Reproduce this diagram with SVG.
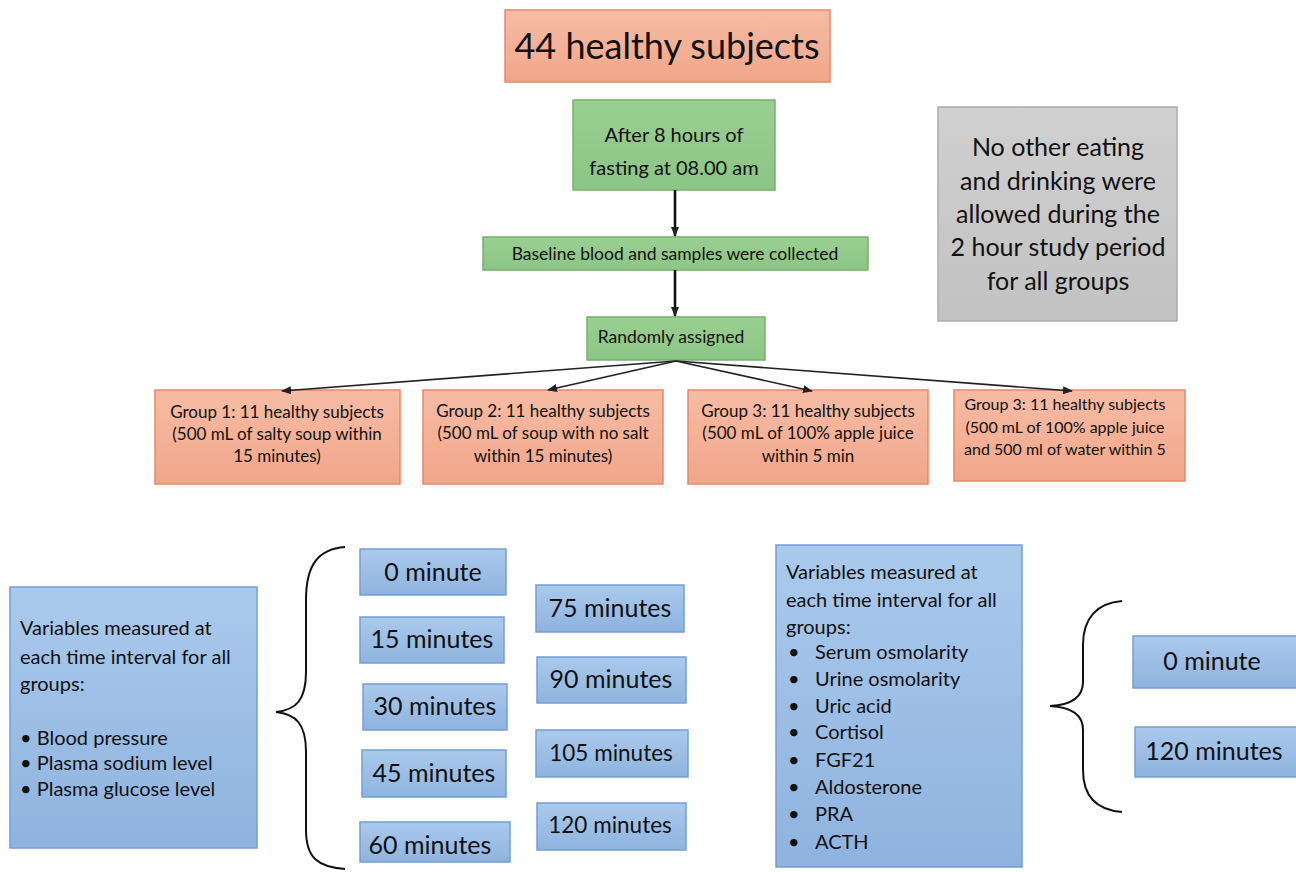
<svg xmlns="http://www.w3.org/2000/svg" width="1296" height="872" viewBox="0 0 1296 872">
<defs>
<linearGradient id="gSalmon" x1="0" y1="0" x2="0" y2="1"><stop offset="0" stop-color="#F6BCA5"/><stop offset="1" stop-color="#F1A689"/></linearGradient>
<linearGradient id="gGreen" x1="0" y1="0" x2="0" y2="1"><stop offset="0" stop-color="#9ACF92"/><stop offset="1" stop-color="#8CC585"/></linearGradient>
<linearGradient id="gGray" x1="0" y1="0" x2="0" y2="1"><stop offset="0" stop-color="#D0D0D0"/><stop offset="1" stop-color="#C2C2C2"/></linearGradient>
<linearGradient id="gBlue" x1="0" y1="0" x2="0" y2="1"><stop offset="0" stop-color="#AACAEC"/><stop offset="1" stop-color="#8FB3DF"/></linearGradient>
<marker id="arr" markerWidth="10" markerHeight="8" refX="9" refY="4" orient="auto" markerUnits="userSpaceOnUse"><path d="M0,0 L10,4 L0,8 Z" fill="#222"/></marker>
</defs>
<style>
text{font-family:Lato,"Open Sans","Liberation Sans",sans-serif;fill:#111;}
.salmon{fill:url(#gSalmon);stroke:#E9876A;stroke-width:1.5;}
.green{fill:url(#gGreen);stroke:#74B268;stroke-width:1.5;}
.gray{fill:url(#gGray);stroke:#ADADAD;stroke-width:1.5;}
.blue{fill:url(#gBlue);stroke:#739FD3;stroke-width:1.5;}
.c{text-anchor:middle;}
.conn{stroke:#222;stroke-width:1.6;fill:none;}
.conn2{stroke:#111;stroke-width:2.6;fill:none;}
.brace{stroke:#111;stroke-width:2;fill:none;}
.g{font-size:17px;}
.t{font-size:25px;}
.v{font-size:20px;}
</style>

<g id="n-subjects"><rect class="salmon" x="505" y="10" width="325" height="72"/><text class="c" x="667" y="59" font-size="36">44 healthy subjects</text></g>
<g id="n-fasting"><rect class="green" x="573" y="100" width="202" height="90"/><text class="c" x="674" y="142" font-size="20">After 8 hours of</text><text class="c" x="674" y="175" font-size="20">fasting at 08.00 am</text></g>
<g id="n-baseline"><rect class="green" x="483" y="237" width="385" height="33"/><text class="c" x="675" y="260" font-size="17.5">Baseline blood and samples were collected</text></g>
<g id="n-random"><rect class="green" x="587" y="317" width="178" height="43"/><text class="c" x="671" y="343" font-size="17.5">Randomly assigned</text></g>
<g id="n-note"><rect class="gray" x="938" y="107" width="239" height="214"/>
<text class="c" x="1058" y="156" font-size="25">No other eating</text>
<text class="c" x="1058" y="190" font-size="25">and drinking were</text>
<text class="c" x="1058" y="223" font-size="25">allowed during the</text>
<text class="c" x="1058" y="256" font-size="25">2 hour study period</text>
<text class="c" x="1058" y="290" font-size="25">for all groups</text></g>

<g id="n-g1"><rect class="salmon" x="155" y="390" width="245" height="94"/><text class="c g" x="277" y="418">Group 1: 11 healthy subjects</text><text class="c g" x="277" y="440">(500 mL of salty soup within</text><text class="c g" x="277" y="462">15 minutes)</text></g>
<g id="n-g2"><rect class="salmon" x="423" y="390" width="240" height="94"/><text class="c g" x="543" y="417">Group 2: 11 healthy subjects</text><text class="c g" x="543" y="439">(500 mL of  soup with no salt</text><text class="c g" x="543" y="462">within 15 minutes)</text></g>
<g id="n-g3"><rect class="salmon" x="688" y="390" width="240" height="94"/><text class="c g" x="808" y="417">Group 3: 11 healthy subjects</text><text class="c g" x="808" y="439">(500 mL of 100% apple juice</text><text class="c g" x="808" y="462">within 5 min</text></g>
<g id="n-g4"><rect class="salmon" x="954" y="390" width="231" height="91"/><text class="c" x="1065" y="410" font-size="16">Group 3: 11 healthy subjects</text><text class="c" x="1065" y="433" font-size="16">(500 mL of 100% apple juice</text><text class="c" x="1065" y="455" font-size="16">and 500 ml of water within 5</text></g>

<g id="connectors">
<line class="conn2" x1="675" y1="190" x2="675" y2="236" marker-end="url(#arr)"/>
<line class="conn2" x1="675" y1="270" x2="675" y2="316" marker-end="url(#arr)"/>
<line class="conn" x1="676" y1="361" x2="282" y2="391" marker-end="url(#arr)"/>
<line class="conn" x1="676" y1="361" x2="548" y2="390" marker-end="url(#arr)"/>
<line class="conn" x1="676" y1="361" x2="812" y2="391" marker-end="url(#arr)"/>
<line class="conn" x1="676" y1="361" x2="1072" y2="391" marker-end="url(#arr)"/>
</g>

<g id="n-vars1"><rect class="blue" x="10" y="587" width="247" height="261"/>
<text class="v" x="20" y="635">Variables measured at</text>
<text class="v" x="20" y="664">each time interval for all</text>
<text class="v" x="20" y="691">groups:</text>
<text class="v" x="20" y="745">•  Blood pressure</text>
<text class="v" x="20" y="770">•  Plasma sodium level</text>
<text class="v" x="20" y="796">•  Plasma glucose level</text></g>

<g id="n-brace1"><path class="brace" d="M345,547 C318,549 306,565 306,600 L306,672 C306,700 296,710 276,712 C296,714 306,724 306,752 L306,830 C306,858 318,867 345,869"/></g>

<g id="n-t0"><rect class="blue" x="360" y="549" width="146" height="46"/><text class="c t" x="433" y="581">0 minute</text></g>
<g id="n-t15"><rect class="blue" x="360" y="617" width="144" height="46"/><text class="c t" x="432" y="648">15 minutes</text></g>
<g id="n-t30"><rect class="blue" x="363" y="684" width="144" height="46"/><text class="c t" x="435" y="715">30 minutes</text></g>
<g id="n-t45"><rect class="blue" x="362" y="750" width="144" height="47"/><text class="c t" x="434" y="782">45 minutes</text></g>
<g id="n-t60"><rect class="blue" x="360" y="822" width="150" height="40"/><text class="c t" x="430" y="854">60 minutes</text></g>
<g id="n-t75"><rect class="blue" x="536" y="585" width="148" height="47"/><text class="c t" x="610" y="617">75 minutes</text></g>
<g id="n-t90"><rect class="blue" x="537" y="657" width="149" height="46"/><text class="c t" x="611" y="688">90 minutes</text></g>
<g id="n-t105"><rect class="blue" x="536" y="730" width="152" height="47"/><text class="c" x="611" y="761" font-size="22.5">105 minutes</text></g>
<g id="n-t120"><rect class="blue" x="537" y="803" width="149" height="47"/><text class="c" x="610" y="833" font-size="22.5">120 minutes</text></g>

<g id="n-vars2"><rect class="blue" x="776" y="545" width="246" height="322"/>
<text class="v" x="786" y="579">Variables measured at</text>
<text class="v" x="786" y="607">each time interval for all</text>
<text class="v" x="786" y="634">groups:</text>
<g class="v">
<text x="788" y="659">•</text><text class="v" x="815" y="659">Serum osmolarity</text>
<text x="788" y="686">•</text><text class="v" x="815" y="686">Urine osmolarity</text>
<text x="788" y="713">•</text><text class="v" x="815" y="713">Uric acid</text>
<text x="788" y="739">•</text><text class="v" x="815" y="739">Cortisol</text>
<text x="788" y="767">•</text><text class="v" x="815" y="767">FGF21</text>
<text x="788" y="794">•</text><text class="v" x="815" y="794">Aldosterone</text>
<text x="788" y="821">•</text><text class="v" x="815" y="821">PRA</text>
<text x="788" y="849">•</text><text class="v" x="815" y="849">ACTH</text>
</g></g>

<g id="n-brace2"><path class="brace" d="M1122,601 C1097,603 1083,618 1083,645 L1083,682 C1083,698 1070,705 1050,706 C1070,707 1083,714 1083,730 L1083,770 C1083,797 1097,810 1122,812"/></g>

<g id="n-r0"><rect class="blue" x="1133" y="636" width="170" height="52"/><text class="c" x="1212" y="670" font-size="25">0 minute</text></g>
<g id="n-r120"><rect class="blue" x="1135" y="727" width="168" height="50"/><text class="c" x="1214" y="760" font-size="25">120 minutes</text></g>
</svg>
